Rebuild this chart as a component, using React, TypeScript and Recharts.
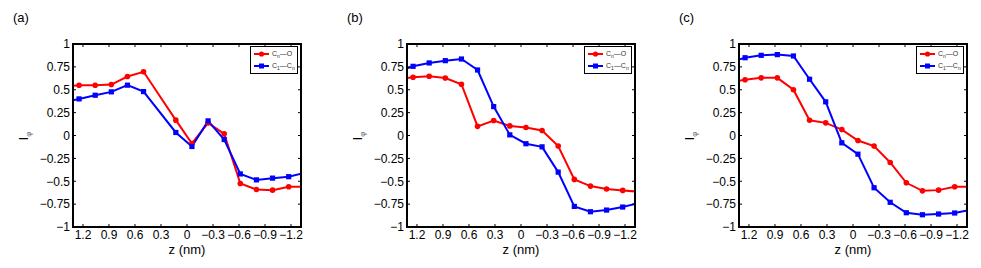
import { LineChart, Line, XAxis, YAxis, Legend } from "recharts";

// z positions of the sampled slabs (nm); the outer two sit just past the axis limits
const zValues = [1.431, 1.245, 1.059, 0.873, 0.687, 0.501, 0.315, 0.129, -0.057, -0.243, -0.429, -0.615, -0.801, -0.987, -1.173, -1.359];
const zTicks = [1.2, 0.9, 0.6, 0.3, 0, -0.3, -0.6, -0.9, -1.2];
const iTicks = [1, 0.75, 0.5, 0.25, 0, -0.25, -0.5, -0.75, -1];

// (a)
const cnoA = [0.535, 0.55, 0.55, 0.557, 0.645, 0.696, null, 0.168, -0.087, 0.138, 0.018, -0.525, -0.59, -0.597, -0.56, -0.56];
const c1cnA = [0.36, 0.4, 0.44, 0.477, 0.55, 0.48, null, 0.033, -0.12, 0.16, -0.044, -0.42, -0.485, -0.466, -0.45, -0.407];
// (b)
const cnoB = [0.614, 0.636, 0.647, 0.629, 0.56, 0.1, 0.164, 0.105, 0.087, 0.055, -0.116, -0.48, -0.553, -0.585, -0.6, -0.614];
const c1cnB = [0.692, 0.756, 0.793, 0.818, 0.836, 0.716, 0.316, 0.007, -0.09, -0.124, -0.4, -0.775, -0.833, -0.815, -0.782, -0.737];
// (c)
const cnoC = [0.58, 0.61, 0.63, 0.63, 0.5, 0.167, 0.138, 0.065, -0.055, -0.116, -0.295, -0.517, -0.605, -0.597, -0.56, -0.56];
const c1cnC = [0.8, 0.85, 0.876, 0.884, 0.869, 0.615, 0.368, -0.08, -0.204, -0.571, -0.73, -0.844, -0.866, -0.858, -0.847, -0.81];

const panelLabels = ["(a)", "(b)", "(c)"];

const RED = "#ff0000";
const BLUE = "#0000ff";
const FONT = "'Liberation Sans', Arial, Helvetica, sans-serif";

// layout of one panel
const W = 311;
const H = 268;
const M = { top: 44, right: 10, bottom: 11, left: 0 };
const Y_AXIS_W = 73;
const X_AXIS_H = 30;
const PLOT_TOP = M.top;
const PLOT_H = H - M.top - M.bottom - X_AXIS_H;
const PLOT_W = W - M.left - M.right - Y_AXIS_W;
const PLOT_RIGHT = W - M.right;

const rows = (cno: (number | null)[], c1cn: (number | null)[]) =>
  zValues.map((z, i) => ({ z, cno: cno[i], c1cn: c1cn[i] }));

const panels = [
  { label: panelLabels[0], data: rows(cnoA, c1cnA), left: 0 },
  { label: panelLabels[1], data: rows(cnoB, c1cnB), left: 334 },
  { label: panelLabels[2], data: rows(cnoC, c1cnC), left: 666 },
];

const fmt = (v: number) => String(v).replace("-", "\u2212");

const SquareDot = (p: any) => {
  if (p.cx == null || p.cy == null || p.value == null) return <g key={`sq-${p.index}`} />;
  return <rect key={`sq-${p.index}`} x={p.cx - 2.6} y={p.cy - 2.6} width={5.2} height={5.2} fill={BLUE} />;
};

// bottom tick label + the matching inward tick on the top edge
const ZTick = (p: any) => (
  <g>
    <text x={p.x} y={p.y} dy="0.71em" textAnchor="middle" fontSize={12} fontFamily={FONT} fill="#000">
      {fmt(p.payload.value)}
    </text>
    <line x1={p.x} x2={p.x} y1={PLOT_TOP} y2={PLOT_TOP + 3} stroke="#000" />
  </g>
);

// left tick label + the matching inward tick on the right edge
const ITick = (p: any) => (
  <g>
    <text x={p.x} y={p.y} dy="0.355em" textAnchor="end" fontSize={12} fontFamily={FONT} fill="#000">
      {fmt(p.payload.value)}
    </text>
    <line x1={PLOT_RIGHT - 3} x2={PLOT_RIGHT} y1={p.y} y2={p.y} stroke="#000" />
  </g>
);

const Sub = ({ children }: { children: string }) => (
  <span style={{ fontSize: 5, verticalAlign: -2 }}>{children}</span>
);

function KeyBox() {
  const sample = (color: string, square: boolean) => (
    <svg width={17} height={8} style={{ display: "block" }}>
      <line x1={1} y1={4} x2={16} y2={4} stroke={color} strokeWidth={2} />
      {square ? (
        <rect x={6} y={1.5} width={5} height={5} fill={color} />
      ) : (
        <circle cx={8.5} cy={4} r={2.6} fill={color} />
      )}
    </svg>
  );
  const row = { display: "flex", alignItems: "center", gap: 2, height: 12 } as const;
  return (
    <div
      style={{
        border: "1.5px solid #000",
        background: "#fff",
        width: 44,
        padding: "1px 0 1px 2px",
        fontFamily: FONT,
        fontSize: 7,
        color: "#333",
        lineHeight: 1,
      }}
    >
      <div style={row}>
        {sample(RED, false)}
        <span>
          C<Sub>n</Sub>—O
        </span>
      </div>
      <div style={row}>
        {sample(BLUE, true)}
        <span>
          C<Sub>1</Sub>—C<Sub>n</Sub>
        </span>
      </div>
    </div>
  );
}

function Panel({ data, left }: { data: any[]; left: number }) {
  return (
    <div style={{ position: "absolute", left, top: 0, width: W, height: H }}>
      <LineChart width={W} height={H} data={data} margin={M}>
        <XAxis
          dataKey="z"
          type="number"
          domain={[-1.315, 1.315]}
          reversed
          allowDataOverflow
          ticks={zTicks}
          interval={0}
          height={X_AXIS_H}
          tickSize={-3}
          tickMargin={6}
          stroke="#000"
          axisLine={{ stroke: "#000", strokeWidth: 1.5 }}
          tick={ZTick}
          label={{
            content: (p: any) => (
              <text
                x={p.viewBox.x + p.viewBox.width / 2}
                y={p.viewBox.y + 27}
                textAnchor="middle"
                fontSize={13}
                fontFamily={FONT}
                fill="#000"
              >
                z (nm)
              </text>
            ),
          }}
        />
        <YAxis
          type="number"
          domain={[-1, 1]}
          ticks={iTicks}
          interval={0}
          width={Y_AXIS_W}
          tickSize={-3}
          tickMargin={6}
          stroke="#000"
          axisLine={{ stroke: "#000", strokeWidth: 1.5 }}
          tick={ITick}
          label={{
            content: () => (
              <g transform="translate(28,136) rotate(-90)">
                <text x={0} y={0} textAnchor="middle" fontSize={13} fontFamily={FONT} fill="#000">
                  I
                  <tspan fontSize={8} dy={3} fill="#666">
                    φ
                  </tspan>
                </text>
              </g>
            ),
          }}
        />
        <Legend
          layout="vertical"
          align="center"
          verticalAlign="middle"
          content={() => <KeyBox />}
          wrapperStyle={{ left: 250, top: 46, width: 48, height: 28 }}
        />
        <Line
          dataKey="cno"
          name="Cn—O"
          stroke={RED}
          strokeWidth={2}
          dot={{ r: 2.8, fill: RED, stroke: RED, strokeWidth: 0 }}
          connectNulls
          isAnimationActive={false}
        />
        <Line
          dataKey="c1cn"
          name="C1—Cn"
          stroke={BLUE}
          strokeWidth={2}
          dot={SquareDot}
          connectNulls
          isAnimationActive={false}
        />
      </LineChart>
    </div>
  );
}

// box frame (MATLAB "box on"), laid over the plot area of a panel
function Frame({ left }: { left: number }) {
  return (
    <div
      style={{
        position: "absolute",
        left: left + M.left + Y_AXIS_W - 1,
        top: PLOT_TOP - 1,
        width: PLOT_W + 2,
        height: PLOT_H + 2,
        borderTop: "2px solid #000",
        borderRight: "2px solid #000",
        borderBottom: "2px solid #000",
        borderLeft: "2px solid #000",
        boxSizing: "border-box",
        pointerEvents: "none",
        zIndex: 5,
      }}
    />
  );
}

export default function App() {
  return (
    <div style={{ position: "absolute", left: 0, top: 0, width: 981, height: 268, background: "#fff" }}>
      {panels.map((p) => (
        <div key={p.label}>
          <div
            style={{
              position: "absolute",
              left: p.left + 13,
              top: 10,
              fontFamily: FONT,
              fontSize: 13,
              color: "#000",
            }}
          >
            {p.label}
          </div>
          <Panel data={p.data} left={p.left} />
          <Frame left={p.left} />
        </div>
      ))}
    </div>
  );
}
